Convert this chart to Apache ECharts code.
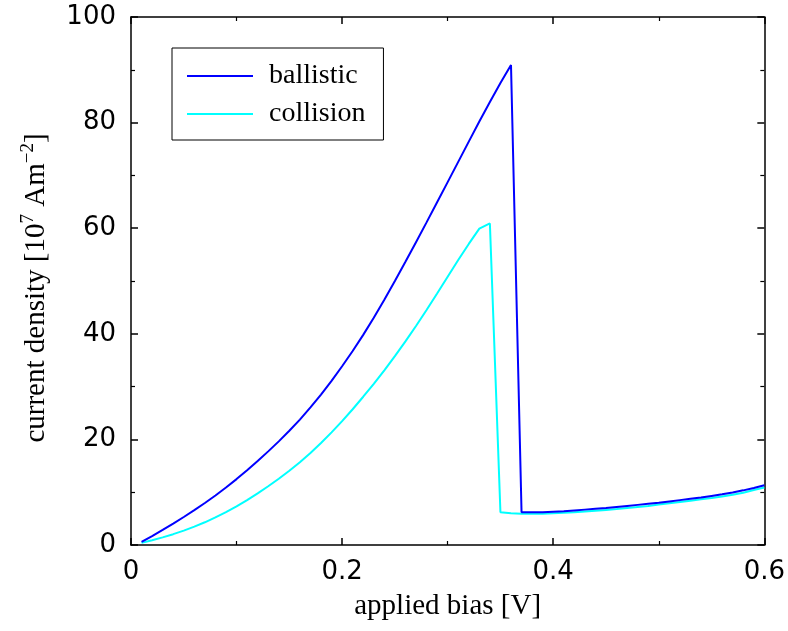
<!DOCTYPE html>
<html>
<head>
<meta charset="utf-8">
<title>current density vs applied bias</title>
<script src="https://cdn.jsdelivr.net/npm/echarts@6/dist/echarts.min.js"></script>
<style>
  html, body { margin: 0; padding: 0; background: #ffffff; }
  #chart { width: 788px; height: 631px; }
</style>
</head>
<body>
<div id="chart"></div>
<script>
// applied bias [V]
const biasV = [
  0.01, 0.02, 0.03, 0.04, 0.05, 0.06, 0.07, 0.08, 0.09, 0.10,
  0.11, 0.12, 0.13, 0.14, 0.15, 0.16, 0.17, 0.18, 0.19, 0.20,
  0.21, 0.22, 0.23, 0.24, 0.25, 0.26, 0.27, 0.28, 0.29, 0.30,
  0.31, 0.32, 0.33, 0.34, 0.35, 0.36, 0.37, 0.38, 0.39, 0.40,
  0.41, 0.42, 0.43, 0.44, 0.45, 0.46, 0.47, 0.48, 0.49, 0.50,
  0.51, 0.52, 0.53, 0.54, 0.55, 0.56, 0.57, 0.58, 0.59, 0.60
];

// current density [1e7 A/m^2], ballistic transport
const ballistic = [
  0.6, 1.7, 2.85, 4.05, 5.3, 6.6, 7.95, 9.38, 10.89, 12.48,
  14.15, 15.9, 17.73, 19.63, 21.63, 23.75, 26.05, 28.5, 31.1, 33.85,
  36.75, 39.8, 43.05, 46.45, 50.0, 53.65, 57.35, 61.1, 64.9, 68.72,
  72.56, 76.4, 80.2, 83.92, 87.52, 90.92, 6.2, 6.2, 6.2, 6.3,
  6.4, 6.55, 6.7, 6.85, 7.0, 7.2, 7.4, 7.6, 7.8, 8.0,
  8.25, 8.5, 8.75, 9.0, 9.3, 9.6, 9.95, 10.35, 10.8, 11.3
];

// current density [1e7 A/m^2], with collisions
const collision = [
  0.4, 0.9, 1.45, 2.05, 2.72, 3.47, 4.3, 5.22, 6.22, 7.3,
  8.5, 9.77, 11.12, 12.55, 14.07, 15.69, 17.44, 19.32, 21.33, 23.46,
  25.71, 28.08, 30.52, 33.08, 35.76, 38.56, 41.48, 44.52, 47.64, 50.82,
  53.97, 57.02, 59.92, 60.9, 6.2, 6.0, 5.9, 5.9, 5.9, 6.0,
  6.1, 6.2, 6.35, 6.5, 6.65, 6.8, 7.0, 7.2, 7.4, 7.65,
  7.9, 8.15, 8.4, 8.65, 8.9, 9.2, 9.5, 9.9, 10.4, 10.9
];

const seriesNames = ['ballistic', 'collision'];

const SERIF = '"Liberation Serif", "Times New Roman", serif';
const SANS = '"DejaVu Sans", "Liberation Sans", sans-serif';

const pairs = (ys) => biasV.map((x, i) => [x, ys[i]]);

// frame axes: black line, inward ticks, kept at the grid edges
const frameLine = () => ({ show: true, onZero: false, lineStyle: { color: '#000', width: 1.5 } });
const frameTick = () => ({ show: true, inside: true, length: 7, lineStyle: { color: '#000', width: 1.5 } });
const frameMinor = () => ({ show: true, splitNumber: 2, length: 4, lineStyle: { color: '#000', width: 1.2 } });

const chart = echarts.init(document.getElementById('chart'), null, { renderer: 'canvas' });

chart.setOption({
  backgroundColor: '#ffffff',
  animation: false,
  grid: { left: 131, right: 23, top: 17, bottom: 86, containLabel: false },
  legend: {
    data: seriesNames,
    orient: 'vertical',
    left: 172,
    top: 48,
    padding: [14, 18, 12, 15],
    itemGap: 10,
    itemWidth: 66,
    itemHeight: 2,
    icon: 'rect',
    borderColor: '#000',
    borderWidth: 1,
    borderRadius: 0,
    backgroundColor: '#fff',
    textStyle: { fontFamily: SERIF, fontSize: 28, color: '#000', lineHeight: 28, padding: [0, 0, 0, 11] }
  },
  xAxis: [
    {
      type: 'value', min: 0, max: 0.6, interval: 0.2,
      position: 'bottom',
      name: 'applied bias [V]',
      nameLocation: 'middle',
      nameGap: 47,
      nameTextStyle: { fontFamily: SERIF, fontSize: 29, color: '#000' },
      axisLine: frameLine(), axisTick: frameTick(), minorTick: frameMinor(),
      splitLine: { show: false },
      axisLabel: { fontFamily: SANS, fontSize: 26, color: '#000', margin: 14 }
    },
    {
      type: 'value', min: 0, max: 0.6, interval: 0.2,
      position: 'top',
      axisLine: frameLine(), axisTick: frameTick(), minorTick: frameMinor(),
      splitLine: { show: false },
      axisLabel: { show: false }
    }
  ],
  yAxis: [
    {
      type: 'value', min: 0, max: 100, interval: 20,
      position: 'left',
      name: '{t|current density [10}{s|7}{t| Am}{s|−2}{t|]}',
      nameLocation: 'middle',
      nameGap: 78,
      nameTextStyle: {
        padding: [0, 14, 0, 0],
        rich: {
          t: { fontFamily: SERIF, fontSize: 29, color: '#000', lineHeight: 34 },
          s: { fontFamily: SERIF, fontSize: 19, color: '#000', lineHeight: 18, verticalAlign: 'top' }
        }
      },
      axisLine: frameLine(), axisTick: frameTick(), minorTick: frameMinor(),
      splitLine: { show: false },
      axisLabel: { fontFamily: SANS, fontSize: 26, color: '#000', margin: 15 }
    },
    {
      type: 'value', min: 0, max: 100, interval: 20,
      position: 'right',
      axisLine: frameLine(), axisTick: frameTick(), minorTick: frameMinor(),
      splitLine: { show: false },
      axisLabel: { show: false }
    }
  ],
  series: [
    {
      name: 'ballistic',
      type: 'line',
      data: pairs(ballistic),
      showSymbol: false,
      symbol: 'none',
      z: 3,
      color: '#0000ff',
      lineStyle: { color: '#0000ff', width: 2 }
    },
    {
      name: 'collision',
      type: 'line',
      data: pairs(collision),
      showSymbol: false,
      symbol: 'none',
      z: 2,
      color: '#00ffff',
      lineStyle: { color: '#00ffff', width: 2 }
    }
  ]
});
</script>
</body>
</html>
